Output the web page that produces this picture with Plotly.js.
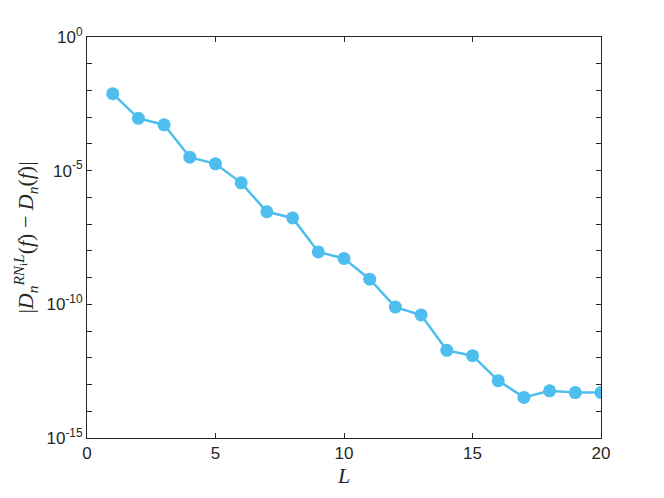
<!DOCTYPE html>
<html>
<head>
<meta charset="utf-8">
<script src="https://cdn.plot.ly/plotly-3.0.1.min.js"></script>
<style>
  html, body { margin: 0; padding: 0; background: #fff; }
  #chart { width: 664px; height: 498px; }
</style>
</head>
<body>
<div id="chart"></div>
<script>
// L values and error
const levels = [1, 2, 3, 4, 5, 6, 7, 8, 9, 10, 11, 12, 13, 14, 15, 16, 17, 18, 19, 20];
const errors = [
  7.6e-3, 9.1e-4, 5.2e-4, 3.2e-5, 1.8e-5, 3.5e-6, 2.9e-7, 1.7e-7, 9.1e-9, 5.2e-9,
  8.7e-10, 7.9e-11, 4.0e-11, 1.9e-12, 1.2e-12, 1.4e-13, 3.3e-14, 5.8e-14, 5.0e-14, 5.0e-14,
];
const xTicks = [0, 5, 10, 15, 20];
const yDecades = [0, -1, -2, -3, -4, -5, -6, -7, -8, -9, -10, -11, -12, -13, -14, -15];

const yTickVals = yDecades.map((d) => Math.pow(10, d));
const yTickText = yDecades.map((d) => (d % 5 === 0 ? `10<sup>${d}</sup>` : ''));

const lineColor = '#4DBEEE';
const axisColor = '#262626';

const data = [
  {
    x: levels,
    y: errors,
    type: 'scatter',
    mode: 'lines+markers',
    line: { color: lineColor, width: 2.5 },
    marker: { color: lineColor, size: 13 },
    hoverinfo: 'skip',
  },
];

const axisCommon = {
  showline: true,
  mirror: 'ticks',
  linecolor: axisColor,
  linewidth: 1,
  ticks: 'inside',
  ticklen: 5,
  tickcolor: axisColor,
  showgrid: false,
  zeroline: false,
  tickfont: { family: 'Liberation Sans, Arial, sans-serif', size: 17, color: axisColor },
};

const layout = {
  width: 664,
  height: 498,
  margin: { l: 87, r: 63, t: 37, b: 60 },
  paper_bgcolor: '#ffffff',
  plot_bgcolor: '#ffffff',
  showlegend: false,
  xaxis: {
    ...axisCommon,
    range: [0, 20],
    tickvals: xTicks,
    title: {
      text: '<i>L</i>',
      font: { family: 'Liberation Serif, DejaVu Serif, serif', size: 22, color: axisColor },
      standoff: 2,
    },
  },
  yaxis: {
    ...axisCommon,
    type: 'log',
    range: [-15, 0],
    tickvals: yTickVals,
    ticktext: yTickText,
    title: {
      text:
        '|<i>D</i><sub><i>n</i></sub><sup><i>RN</i><sub>i</sub><i>L</i></sup>(<i>f</i>) − <i>D</i><sub><i>n</i></sub>(<i>f</i>)|',
      font: { family: 'Liberation Serif, DejaVu Serif, serif', size: 22, color: axisColor },
      standoff: 6,
    },
  },
};

Plotly.newPlot('chart', data, layout, { displayModeBar: false, staticPlot: true });
</script>
</body>
</html>
